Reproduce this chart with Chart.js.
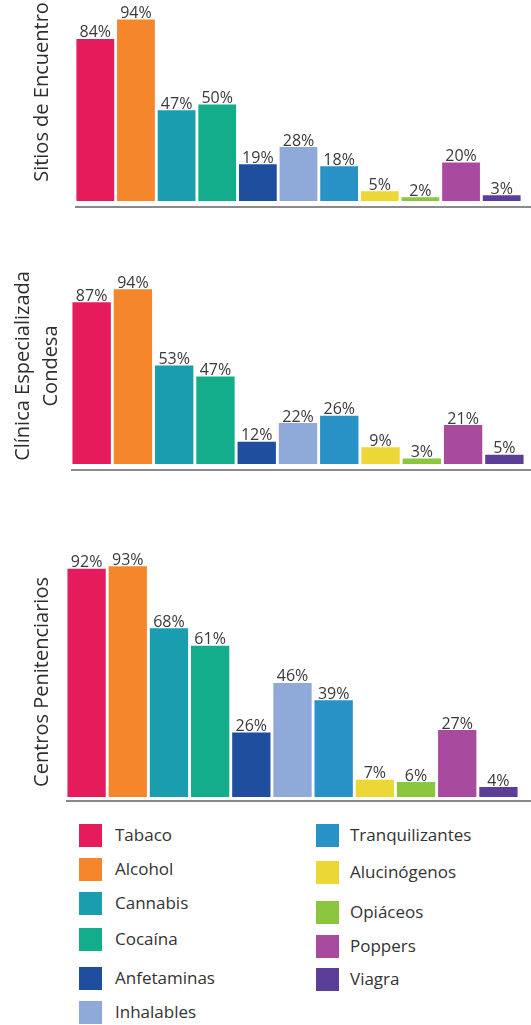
<!DOCTYPE html>
<html>
<head>
<meta charset="utf-8">
<script src="https://cdn.jsdelivr.net/npm/chart.js@4"></script>
<style>
  body { margin: 0; background: #fff; width: 531px; height: 1025px; position: relative; overflow: hidden; font-family: "Open Sans", sans-serif; }
  canvas { position: absolute; left: 0; }
  .leg { position: absolute; font-size: 17px; color: #333; }
  .leg span { position: absolute; width: 23px; height: 23px; }
  .leg b { position: absolute; font-weight: normal; white-space: nowrap; line-height: 23px; }
</style>
</head>
<body>
<canvas id="c1" width="531" height="215" style="top:0px"></canvas>
<canvas id="c2" width="531" height="210" style="top:270px"></canvas>
<canvas id="c3" width="531" height="270" style="top:540px"></canvas>
<div id="legend"></div>
<script>
const drugs = ["Tabaco", "Alcohol", "Cannabis", "Cocaína", "Anfetaminas", "Inhalables",
               "Tranquilizantes", "Alucinógenos", "Opiáceos", "Poppers", "Viagra"];
const colors = ["#E61B5B", "#F5862C", "#1A9DAE", "#14AD8B", "#1F4E9E", "#8FA9D8",
                "#2891C6", "#EBD735", "#8CC63F", "#A84B9F", "#5B3E98"];
const sitios  = [84, 94, 47, 50, 19, 28, 18, 5, 2, 20, 3];
const clinica = [87, 94, 53, 47, 12, 22, 26, 9, 3, 21, 5];
const centros = [92, 93, 68, 61, 26, 46, 39, 7, 6, 27, 4];

// labels on top of bars
const valueLabels = {
  id: "valueLabels",
  afterDatasetsDraw(chart) {
    const ctx = chart.ctx;
    const meta = chart.getDatasetMeta(0);
    ctx.save();
    ctx.font = "16px 'Open Sans', sans-serif";
    ctx.fillStyle = "#3a3a3a";
    ctx.textAlign = "center";
    ctx.textBaseline = "bottom";
    meta.data.forEach((bar, i) => {
      ctx.fillText(chart.data.datasets[0].data[i] + "%", bar.x, bar.y + 2);
    });
    ctx.restore();
  }
};

// gray line under the bars, runs to the right edge
const baseLine = {
  id: "baseLine",
  afterDraw(chart, args, opts) {
    const ctx = chart.ctx;
    const y = chart.scales.y.getPixelForValue(0) + opts.gap;
    ctx.save();
    ctx.strokeStyle = "#8a8a8a";
    ctx.lineWidth = 2;
    ctx.beginPath();
    ctx.moveTo(chart.chartArea.left, y);
    ctx.lineTo(chart.width, y);
    ctx.stroke();
    ctx.restore();
  }
};

// rotated title on the left side
const sideTitle = {
  id: "sideTitle",
  afterDraw(chart, args, opts) {
    const ctx = chart.ctx;
    ctx.save();
    ctx.font = "20px 'Open Sans', sans-serif";
    ctx.fillStyle = "#2e2e2e";
    ctx.textAlign = "center";
    ctx.textBaseline = "middle";
    opts.lines.forEach((t, i) => {
      ctx.save();
      ctx.translate(opts.xs[i], opts.y);
      ctx.rotate(-Math.PI / 2);
      ctx.fillText(t, 0, 0);
      ctx.restore();
    });
    ctx.restore();
  }
};

function makeChart(id, values, pad, title, gap) {
  return new Chart(document.getElementById(id), {
    type: "bar",
    data: {
      labels: drugs,
      datasets: [{
        data: values,
        backgroundColor: colors,
        borderWidth: 0,
        barPercentage: 0.93,
        categoryPercentage: 1
      }]
    },
    options: {
      responsive: false,
      animation: false,
      layout: { padding: pad },
      plugins: {
        legend: { display: false },
        tooltip: { enabled: false },
        baseLine: { gap: gap },
        sideTitle: title
      },
      scales: {
        x: { display: false },
        y: { display: false, min: 0, max: 100 }
      }
    },
    plugins: [valueLabels, baseLine, sideTitle]
  });
}

makeChart("c1", sitios, { top: 8, bottom: 14, left: 75, right: 9 },
  { lines: ["Sitios de Encuentro"], xs: [42], y: 92 }, 6);
makeChart("c2", clinica, { top: 8, bottom: 16, left: 71, right: 6 },
  { lines: ["Clínica Especializada", "Condesa"], xs: [23, 51], y: 96 }, 6);
makeChart("c3", centros, { top: 9, bottom: 13, left: 66, right: 12 },
  { lines: ["Centros Penitenciarios"], xs: [42], y: 142 }, 4);

// legend, two columns
const leftRows = [835, 869, 903, 939, 978, 1012];
const rightRows = [835, 872, 912, 946, 979];
const legend = document.getElementById("legend");
drugs.forEach((name, i) => {
  const left = i < 6;
  const cy = left ? leftRows[i] : rightRows[i - 6];
  const sx = left ? 79 : 316;
  const d = document.createElement("div");
  d.className = "leg";
  d.style.left = sx + "px";
  d.style.top = (cy - 11) + "px";
  d.innerHTML = '<span style="left:0;top:0;background:' + colors[i] + '"></span>' +
    '<b style="left:' + (left ? 36 : 34) + 'px;top:-1px">' + name + '</b>';
  legend.appendChild(d);
});
</script>
</body>
</html>
